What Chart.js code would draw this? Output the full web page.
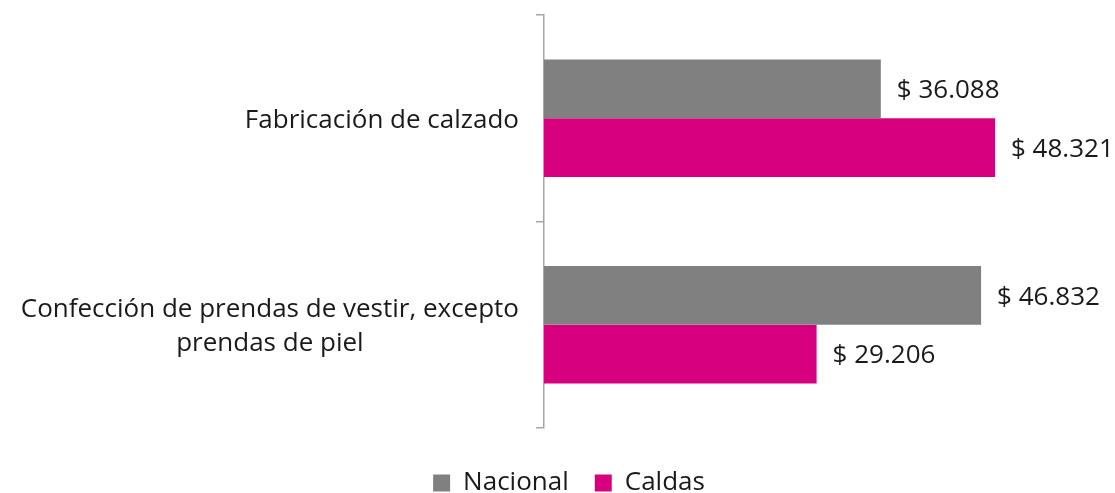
<!DOCTYPE html>
<html>
<head>
<meta charset="utf-8">
<script src="https://cdn.jsdelivr.net/npm/chart.js@4/dist/chart.umd.min.js"></script>
<style>
html,body{margin:0;padding:0;background:#fff;}
#wrap{width:1115px;height:493px;position:relative;}
</style>
</head>
<body>
<div id="wrap"><canvas id="c"></canvas></div>
<script>
const categories = [
  ['Fabricación de calzado'],
  ['Confección de prendas de vestir, excepto', 'prendas de piel']
];
const seriesNames = ['Nacional', 'Caldas'];
const nacional = [36088, 46832];
const caldas = [48321, 29206];
const seriesColors = ['#808080', '#D7007F'];

const FONT = '"Open Sans", "Noto Sans", sans-serif';
const FS = 26;

function fmt(v) {
  return '$ ' + String(v).replace(/\B(?=(\d{3})+(?!\d))/g, '.');
}

const valueLabels = {
  id: 'valueLabels',
  afterDatasetsDraw(chart) {
    const ctx = chart.ctx;
    ctx.save();
    ctx.font = FS + 'px ' + FONT;
    ctx.fillStyle = '#1a1a1a';
    ctx.textAlign = 'left';
    ctx.textBaseline = 'middle';
    chart.data.datasets.forEach((ds, i) => {
      const meta = chart.getDatasetMeta(i);
      meta.data.forEach((bar, j) => {
        ctx.fillText(fmt(ds.data[j]), bar.x + 16, bar.y + 2);
      });
    });
    ctx.restore();
  }
};

const catLabels = {
  id: 'catLabels',
  afterDraw(chart) {
    const ctx = chart.ctx;
    const ys = chart.scales.y;
    const right = chart.chartArea.left - 25;
    const lh = 34;
    ctx.save();
    ctx.font = FS + 'px ' + FONT;
    ctx.fillStyle = '#1a1a1a';
    ctx.textAlign = 'center';
    ctx.textBaseline = 'middle';
    categories.forEach((lines, i) => {
      const cy = ys.getPixelForValue(i) + 2;
      const maxW = Math.max(...lines.map(l => ctx.measureText(l).width));
      const cx = right - maxW / 2;
      const y0 = cy - (lines.length - 1) * lh / 2;
      lines.forEach((l, k) => ctx.fillText(l, cx, y0 + k * lh));
    });
    ctx.restore();
  }
};

const legendShift = {
  id: 'legendShift',
  afterLayout(chart) {
    const lg = chart.legend;
    if (!lg) return;
    const dy = 16, dx = 17;
    lg.top += dy; lg.bottom += dy;
    lg.left += dx; lg.right += dx;
  }
};

new Chart(document.getElementById('c'), {
  type: 'bar',
  data: {
    labels: categories,
    datasets: [
      { label: seriesNames[0], data: nacional, backgroundColor: seriesColors[0], borderWidth: 0 },
      { label: seriesNames[1], data: caldas, backgroundColor: seriesColors[1], borderWidth: 0 }
    ]
  },
  options: {
    indexAxis: 'y',
    responsive: true,
    maintainAspectRatio: false,
    animation: false,
    layout: { padding: { top: 15, right: 11, left: 0, bottom: 3 } },
    scales: {
      x: { display: false, min: 0, max: 60000 },
      y: {
        afterFit(scale) { scale.width = 544; },
        grid: { display: true, drawOnChartArea: false, drawTicks: true, tickLength: 8, offset: true, color: '#A6A6A6', lineWidth: 1.5 },
        border: { display: true, color: '#A6A6A6', width: 1.5 },
        ticks: { display: false }
      }
    },
    datasets: { bar: { categoryPercentage: 0.568, barPercentage: 1 } },
    plugins: {
      legend: {
        position: 'bottom',
        labels: {
          font: { family: FONT, size: FS, lineHeight: 1 },
          color: '#1a1a1a',
          boxWidth: 17, boxHeight: 17,
          padding: 26
        }
      },
      tooltip: { enabled: false }
    }
  },
  plugins: [valueLabels, catLabels, legendShift]
});
</script>
</body>
</html>
